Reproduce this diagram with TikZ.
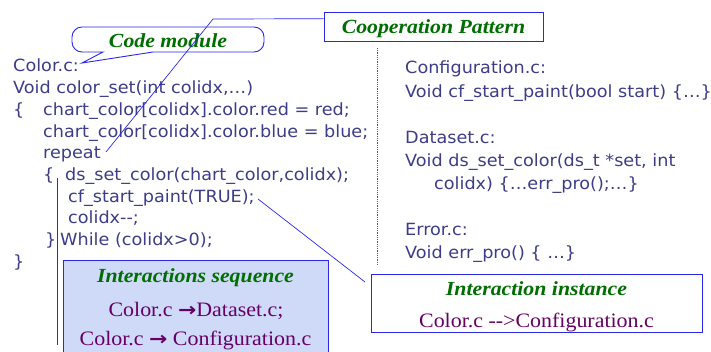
\documentclass[tikz,border=0pt]{standalone}
\usepackage{fontspec}
\usetikzlibrary{calc}
\newfontfamily\codefont[FakeStretch=1.05]{DejaVu Sans}
\newfontfamily\titlefont[FakeStretch=1.09]{Liberation Serif}
\newfontfamily\seqfont[FakeStretch=1.07]{Liberation Serif}
\newfontfamily\arrowfont[FakeStretch=1.15]{DejaVu Sans}
\definecolor{codecol}{RGB}{60,60,135}
\definecolor{titlegreen}{RGB}{0,110,0}
\definecolor{seqpurple}{RGB}{102,0,102}
\definecolor{linkblue}{RGB}{40,40,235}
\definecolor{seqfill}{RGB}{206,218,248}
\begin{document}
\begin{tikzpicture}[x=1pt,y=-1pt,
  code/.style={anchor=base west,inner sep=0pt,text=codecol,
    font=\codefont\fontsize{16.8}{20}\selectfont},
  title/.style={anchor=base,inner sep=0pt,text=titlegreen,
    font=\titlefont\bfseries\itshape\fontsize{20}{24}\selectfont},
  seq/.style={anchor=base,inner sep=0pt,text=seqpurple,
    font=\seqfont\fontsize{20.5}{24}\selectfont},
  frame/.style={draw=linkblue,line width=0.9pt},
  link/.style={draw=linkblue,line width=0.7pt},
  sep/.style={draw=black!65,densely dotted,line width=0.8pt}]
\useasboundingbox (0,0) rectangle (711,351);

% boxes
\node[frame,fill=seqfill,minimum width=265pt,minimum height=100pt,inner sep=0pt] (seqbox) at (195.5,310) {};
\node[frame,fill=white,minimum width=331pt,minimum height=58pt,inner sep=0pt] (instbox) at (536.5,303) {};
\node[frame,fill=white,minimum width=219pt,minimum height=29pt,inner sep=0pt] (coopbox) at (433.5,26.5) {};

% callout of the code module
\draw[frame,fill=white] (103,52) [rounded corners=10] -- (72,52) -- (72,27) -- (264,27) -- (264,52) [sharp corners] -- (153,52) -- (82,63) -- cycle;

% titles
\node[title] (tcode) at (168,47) {Code module};
\node[title] (tcoop) at (433.5,33) {Cooperation Pattern};
\node[title] (tseq) at (195.5,282) {Interactions sequence};
\node[title] (tinst) at (536.5,295) {Interaction instance};

% sequence texts
\node[seq] (s1) at (196,316) {Color.c {\arrowfont\bfseries\fontsize{19}{20}\selectfont →}Dataset.c;};
\node[seq] (s2) at (195.5,345) {Color.c {\arrowfont\bfseries\fontsize{19}{20}\selectfont →} Configuration.c};
\node[seq] (s3) at (536.5,327) {Color.c -\kern0pt-\kern0pt>Configuration.c};

% left code column
\node[code] (l1) at (13,71) {Color.c:};
\node[code] (l2) at (13,93) {Void color\_set(int colidx,…)};
\node[code] (l3a) at (13,115) {\{};
\node[code] (l3) at (43,115) {chart\_color[colidx].color.red = red;};
\node[code] (l4) at (43,137) {chart\_color[colidx].color.blue = blue;};
\node[code] (l5) at (43,158) {repeat};
\node[code] (l6a) at (43,180) {\{};
\node[code] (l6) at (65,180) {ds\_set\_color(chart\_color,colidx);};
\node[code] (l7) at (68,202) {cf\_start\_paint(TRUE);};
\node[code] (l8) at (68,223) {colidx-\kern0pt-;};
\node[code] (l9a) at (45,245) {\}};
\node[code] (l9) at (60,245) {While (colidx>0);};
\node[code] (l10) at (13,267) {\}};

% right code column
\node[code] (r1) at (405,73) {Configuration.c:};
\node[code] (r2) at (405,97) {Void cf\_start\_paint(bool start) \{…\}};
\node[code] (r3) at (405,143) {Dataset.c:};
\node[code] (r4) at (405,166) {Void ds\_set\_color(ds\_t *set, int};
\node[code] (r5) at (434,189) {colidx) \{…err\_pro();…\}};
\node[code] (r6) at (405,235) {Error.c:};
\node[code] (r7) at (405,258) {Void err\_pro() \{ …\}};

% separator between the two columns
\coordinate (septop) at (377,48);
\coordinate (sepbot) at (377,265);
\draw[sep] (septop) -- (sepbot);

% connectors
\coordinate (coopL) at ($(coopbox.north west)!0.24!(coopbox.south west)$);
\coordinate (bend) at (213,19);
\coordinate (rpt) at (106,152);
\draw[link] (coopL) -- (bend) -- (rpt);

\coordinate (cfend) at (258,199);
\coordinate (instL) at (365,282);
\draw[link] (cfend) -- (instL);

\coordinate (looptop) at (57,178);
\coordinate (loopbot) at (57,345);
\draw[link] (looptop) -- (loopbot);
\end{tikzpicture}
\end{document}
